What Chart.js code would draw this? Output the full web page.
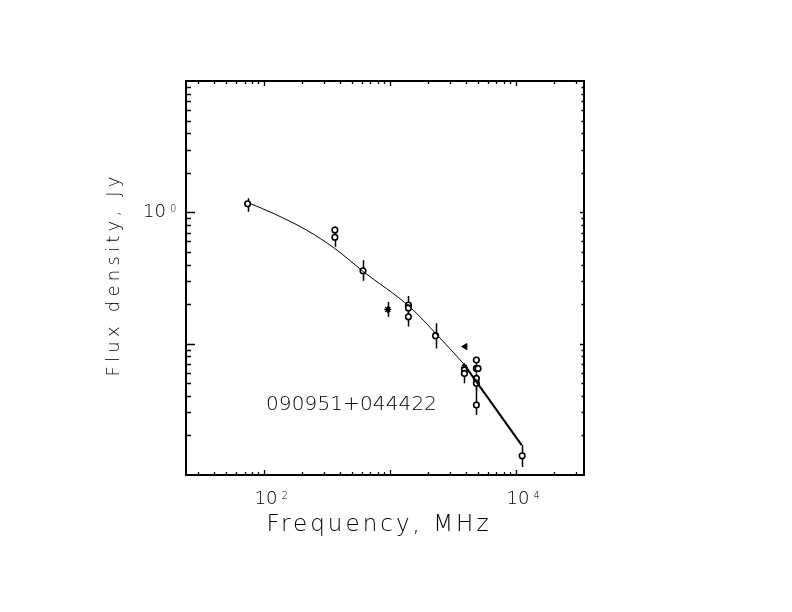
<!DOCTYPE html>
<html>
<head>
<meta charset="utf-8">
<script src="https://cdn.jsdelivr.net/npm/chart.js@4.4.1/dist/chart.umd.min.js"></script>
<style>
  html, body { margin: 0; padding: 0; background: #fff; }
  #wrap { width: 792px; height: 612px; }
</style>
</head>
<body>
<div id="wrap"><canvas id="spec" width="792" height="612"></canvas></div>
<script>
// open circles: frequency (MHz), flux (Jy), lower / upper error
var circFreq = [74, 365, 365, 610, 1400, 1400, 1400, 2300, 3900, 3900, 4850, 4850, 5000, 4850, 4850, 4850, 11200];
var circFlux = [1.16, 0.733, 0.646, 0.359, 0.197, 0.187, 0.160, 0.115, 0.0629, 0.0594, 0.075, 0.0648, 0.0648, 0.0544, 0.050, 0.0341, 0.0140];
var circLo   = [0.15, 0.04, 0.10, 0.058, 0.02, 0.02, 0.025, 0.023, 0.006, 0.0095, 0.005, 0.005, 0.004, 0.005, 0.006, 0.0055, 0.0025];
var circHi   = [0.12, 0.05, 0.05, 0.073, 0.034, 0.02, 0.02, 0.028, 0.006, 0.006, 0.0045, 0.005, 0.004, 0.005, 0.005, 0.013, 0.0029];

// asterisks
var starFreq = [960, 3900];
var starFlux = [0.182, 0.066];
var starLo   = [0.022, 0.005];
var starHi   = [0.026, 0.003];

// filled triangle
var triFreq = [3950];
var triFlux = [0.095];

// fitted spectrum
var fitFreq = [77, 118, 217, 365, 612, 1440, 2340, 3820];
var fitFlux = [1.17, 0.983, 0.733, 0.53, 0.355, 0.19, 0.118, 0.0708];
// heavier high-frequency segment
var tailFreq = [3820, 11100];
var tailFlux = [0.0708, 0.0169];

var xMin = 24, xMax = 34700;
var yMin = 0.01, yMax = 10;

function pts(xs, ys) {
    return xs.map(function (x, i) { return { x: x, y: ys[i] }; });
}

function logTicks(min, max) {
    var out = [];
    for (var e = -3; e <= 5; e++) {
        for (var m = 1; m <= 9; m++) {
            var v = m * Math.pow(10, e);
            if (v > min * 1.0001 && v < max / 1.0001) out.push({ v: v, major: m === 1 });
        }
    }
    return out;
}

function spaced(ctx, text, x, y, width) {
    ctx.letterSpacing = '0px';
    var w = ctx.measureText(text).width;
    var ls = (width - w) / (text.length - 1);
    ctx.letterSpacing = ls + 'px';
    ctx.textAlign = 'left';
    ctx.fillText(text, x, y);
    ctx.letterSpacing = '0px';
}

function power(ctx, exp, x, y, align) {
    // "10" with a small exponent; x is centre (align 'center') or right edge of "10"
    ctx.font = '200 18px "DejaVu Sans"';
    ctx.letterSpacing = '0px';
    var w = ctx.measureText('10').width;
    var left = align === 'center' ? x - w / 2 : x - w;
    ctx.textAlign = 'left';
    ctx.fillText('10', left, y);
    ctx.font = '200 10px "DejaVu Sans"';
    ctx.fillText(exp, left + w + 4, y - 5);
}

var framePlugin = {
    id: 'frame',
    beforeDatasetsDraw: function (chart) {
        var xs = chart.scales.x, ys = chart.scales.y, ctx = chart.ctx;
        ctx.save();
        ctx.strokeStyle = '#000';
        ctx.lineWidth = 1.5;
        chart.data.datasets.forEach(function (ds) {
            if (!ds.errLo) return;
            ds.data.forEach(function (p, j) {
                var px = Math.round(xs.getPixelForValue(p.x)) + 0.5;
                ctx.beginPath();
                ctx.moveTo(px, ys.getPixelForValue(p.y + ds.errHi[j]));
                ctx.lineTo(px, ys.getPixelForValue(p.y - ds.errLo[j]));
                ctx.stroke();
            });
        });
        ctx.restore();
    },
    afterDraw: function (chart) {
        var xs = chart.scales.x, ys = chart.scales.y, ctx = chart.ctx;
        var a = chart.chartArea;
        ctx.save();
        ctx.strokeStyle = '#000';
        ctx.fillStyle = '#000';
        ctx.lineWidth = 2;
        ctx.strokeRect(a.left, a.top, a.right - a.left, a.bottom - a.top);

        ctx.lineWidth = 1.3;
        ctx.beginPath();
        logTicks(xMin, xMax).forEach(function (t) {
            var px = Math.round(xs.getPixelForValue(t.v)) + 0.5;
            ctx.moveTo(px, a.bottom);
            ctx.lineTo(px, a.bottom - (t.major ? 5 : 3));
            ctx.moveTo(px, a.top);
            ctx.lineTo(px, a.top + (t.major ? 5 : 3));
        });
        logTicks(yMin, yMax).forEach(function (t) {
            var py = Math.round(ys.getPixelForValue(t.v)) + 0.5;
            ctx.moveTo(a.left, py);
            ctx.lineTo(a.left + (t.major ? 9 : 5), py);
            ctx.moveTo(a.right, py);
            ctx.lineTo(a.right - (t.major ? 4 : 2.5), py);
        });
        ctx.stroke();

        // tick labels
        power(ctx, '2', xs.getPixelForValue(100) + 2, 503.5, 'center');
        power(ctx, '4', xs.getPixelForValue(10000) + 2, 503.5, 'center');
        power(ctx, '0', 166, ys.getPixelForValue(1) + 4.5, 'right');

        // axis titles
        ctx.font = '200 23px "DejaVu Sans"';
        spaced(ctx, 'Frequency, MHz', 266.5, 530.5, 222);
        ctx.save();
        ctx.translate(119, 376.5);
        ctx.rotate(-Math.PI / 2);
        ctx.font = '200 18px "DejaVu Sans"';
        spaced(ctx, 'Flux density, Jy', 0, 0, 200);
        ctx.restore();

        // source name
        ctx.font = '200 20px "DejaVu Sans"';
        spaced(ctx, '090951+044422', 266, 409.5, 171);
        ctx.restore();
    }
};

var ctx = document.getElementById('spec');

var chart = new Chart(ctx, {
    type: 'scatter',
    data: {
        datasets: [{
            type: 'line',
            label: 'fit',
            data: pts(fitFreq, fitFlux),
            borderColor: '#000',
            borderWidth: 1,
            pointRadius: 0,
            cubicInterpolationMode: 'monotone',
            fill: false
        }, {
            type: 'line',
            label: 'tail',
            data: pts(tailFreq, tailFlux),
            borderColor: '#000',
            borderWidth: 2,
            pointRadius: 0,
            fill: false
        }, {
            label: 'circles',
            data: pts(circFreq, circFlux),
            errLo: circLo,
            errHi: circHi,
            pointStyle: 'circle',
            pointRadius: 2.8,
            borderWidth: 1.6,
            borderColor: '#000',
            backgroundColor: '#fff'
        }, {
            label: 'stars',
            data: pts(starFreq, starFlux),
            errLo: starLo,
            errHi: starHi,
            pointStyle: 'star',
            pointRadius: 3.5,
            borderWidth: 1.3,
            borderColor: '#000',
            backgroundColor: '#000'
        }, {
            label: 'triangle',
            data: pts(triFreq, triFlux),
            pointStyle: 'triangle',
            rotation: -90,
            pointRadius: 3.5,
            borderWidth: 1,
            borderColor: '#000',
            backgroundColor: '#000'
        }]
    },
    options: {
        responsive: false,
        animation: false,
        devicePixelRatio: 1,
        layout: {
            padding: { left: 186, right: 208, top: 81, bottom: 137 }
        },
        plugins: {
            legend: { display: false },
            tooltip: { enabled: false }
        },
        scales: {
            x: {
                type: 'logarithmic',
                min: xMin,
                max: xMax,
                display: false
            },
            y: {
                type: 'logarithmic',
                min: yMin,
                max: yMax,
                display: false
            }
        }
    },
    plugins: [framePlugin]
});
</script>
</body>
</html>
